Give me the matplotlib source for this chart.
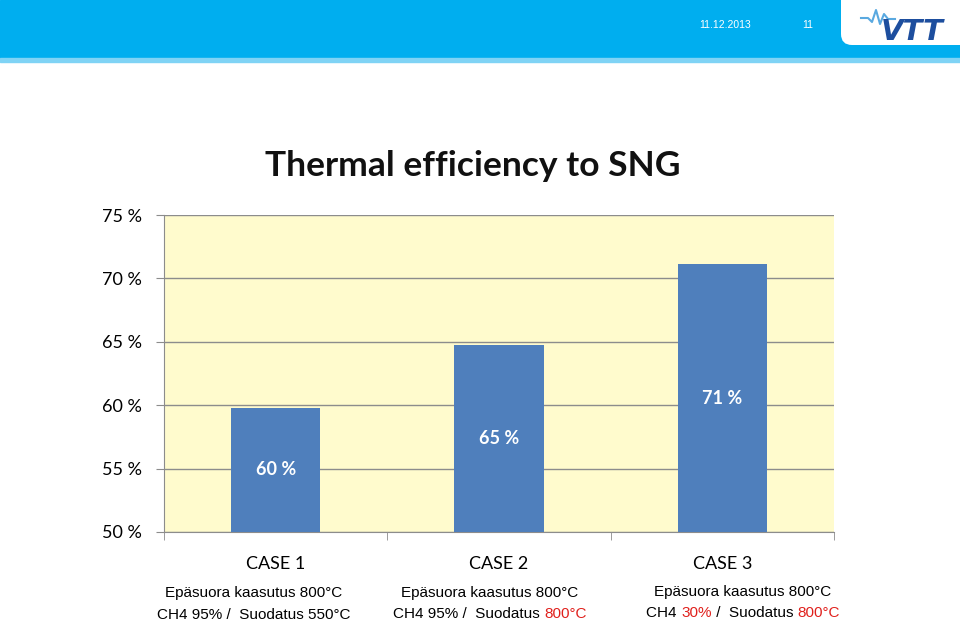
import numpy as np
import matplotlib.pyplot as plt
from matplotlib.patches import Rectangle, FancyBboxPatch
from matplotlib.lines import Line2D

cases = ['CASE 1', 'CASE 2', 'CASE 3']
efficiency = [59.8, 64.75, 71.1]
bar_labels = ['60 %', '65 %', '71 %']
y_ticks = [50, 55, 60, 65, 70, 75]

# notes under each case: list of (text, colour) pieces per line
notes = [
    [[('Epäsuora kaasutus 800°C', 'k')],
     [('CH4 95% /  Suodatus 550°C', 'k')]],
    [[('Epäsuora kaasutus 800°C', 'k')],
     [('CH4 95% /  Suodatus ', 'k'), ('800°C', '#e0201c')]],
    [[('Epäsuora kaasutus 800°C', 'k')],
     [('CH4 ', 'k'), ('30%', '#e0201c'), (' /  Suodatus ', 'k'), ('800°C', '#e0201c')]],
]
note_x = [254, 490, 743]
note_y = [[593, 615], [593, 614], [592, 613]]

W, H = 960, 622
fig = plt.figure(figsize=(9.6, 6.22), dpi=100)

# slide header
fig.patches.append(Rectangle((0, 1 - 58 / H), 1, 58 / H, transform=fig.transFigure,
                             color='#00aeef', zorder=0))
fig.patches.append(Rectangle((0, 1 - 62 / H), 1, 4 / H, transform=fig.transFigure,
                             color='#7fd3f5', zorder=0))
fig.patches.append(FancyBboxPatch((841, H - 45), 200, 80, boxstyle='round,pad=0,rounding_size=11',
                                  transform=None, facecolor='white', edgecolor='none', zorder=1))
fig.text(725 / W, 1 - 25 / H, '11.12.2013', color='white', fontsize=7.5,
         ha='center', va='center', family='Liberation Sans')
fig.text(808 / W, 1 - 25 / H, '11', color='white', fontsize=7.5,
         ha='center', va='center', family='Liberation Sans')
fig.text(912 / W, 1 - 32 / H, 'VTT', color='#1d4e9e', fontsize=21, fontweight='bold',
         style='italic', ha='center', va='center', family='DejaVu Sans')
wx = np.array([861, 868, 872, 876, 880, 884, 888, 895])
wy = np.array([18, 18, 22, 10, 24, 14, 19, 19])
fig.lines.append(Line2D(wx / W, 1 - wy / H, transform=fig.transFigure,
                        color='#5aa9e0', lw=1.5))

# chart
ax = fig.add_axes([164 / W, 1 - 532 / H, 670 / W, 317 / H])
ax.set_facecolor('#fffbcd')
x = np.arange(len(cases))
bars = ax.bar(x, [v - 50 for v in efficiency], 0.4, bottom=50, color='#4f7fbc', zorder=3)
for b, lab in zip(bars, bar_labels):
    ax.text(b.get_x() + b.get_width() / 2, 50 + b.get_height() / 2, lab, color='white',
            fontsize=13, fontweight='bold', ha='center', va='center', family='Lato')

ax.set_ylim(50, 75)
ax.set_xlim(-0.5, 2.5)
ax.set_yticks(y_ticks)
ax.set_yticklabels(['%d %%' % t for t in y_ticks], fontsize=13, family='Lato')
ax.set_xticks(x)
ax.set_xticklabels(cases, fontsize=13, family='Lato')
ax.set_xticks([-0.5, 0.5, 1.5, 2.5], minor=True)
ax.tick_params(axis='x', which='major', length=0, pad=17)
ax.tick_params(axis='x', which='minor', length=6, color='#8c8c8c')
ax.tick_params(axis='y', length=6, color='#8c8c8c', pad=10)
ax.yaxis.grid(True, color='#8c8c8c', lw=1, zorder=1)
ax.set_axisbelow(True)
for s in ['top', 'right']:
    ax.spines[s].set_visible(False)
for s in ['left', 'bottom']:
    ax.spines[s].set_color('#8c8c8c')

fig.text(473 / W, 1 - 166 / H, 'Thermal efficiency to SNG', fontsize=25.5, fontweight='bold',
         ha='center', va='center', family='Lato', color='#111111')

# notes under the chart, pieces placed one after another
fig.canvas.draw()
r = fig.canvas.get_renderer()
nfont = dict(fontsize=11, family='Liberation Sans')
for cx, ys, block in zip(note_x, note_y, notes):
    for yy, line in zip(ys, block):
        texts = [fig.text(0, 1 - yy / H, s, color=c, va='center', ha='left', **nfont)
                 for s, c in line]
        widths = [t.get_window_extent(r).width for t in texts]
        px = cx - sum(widths) / 2
        for t, w in zip(texts, widths):
            t.set_x(px / W)
            px += w

fig.savefig('out.png', dpi=100)
